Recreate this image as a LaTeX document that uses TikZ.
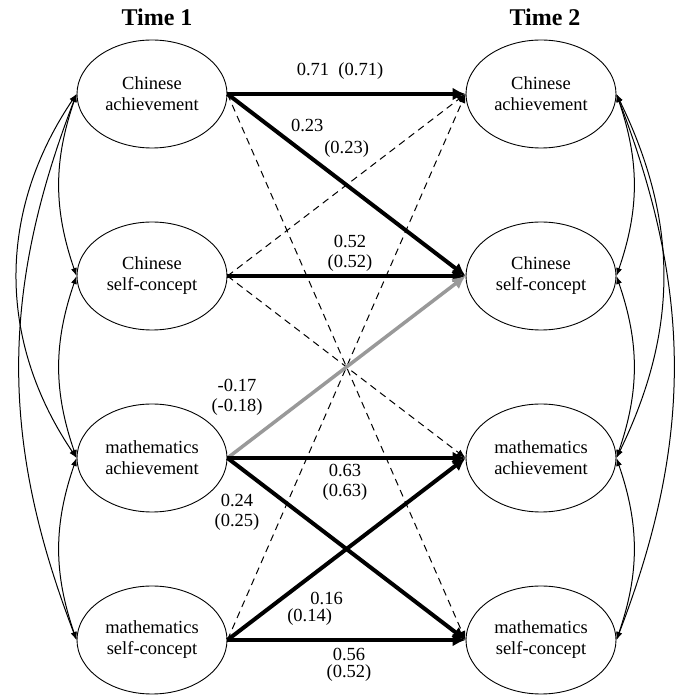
\documentclass[tikz,border=0pt]{standalone}
\usepackage{fontspec}
\setmainfont{Liberation Serif}
\usepackage{tikz}
\usetikzlibrary{shapes.geometric}
\usetikzlibrary{arrows.meta}

\tikzset{
  var/.style={ellipse, draw, line width=0.9pt, minimum width=150pt, minimum height=108pt,
    inner sep=0pt, align=center, font=\fontsize{18.5}{21}\selectfont},
  timelabel/.style={font=\bfseries\fontsize{24}{28}\selectfont},
  est/.style={inner sep=0pt, align=center, font=\fontsize{18.5}{20}\selectfont},
  bigpath/.style={line width=4pt, -{Latex[length=13pt,width=13pt]}},
  greypath/.style={bigpath, line width=3.5pt, draw=black!40},
  nspath/.style={line width=1pt, dash pattern=on 7pt off 5pt, -{Latex[length=9pt,width=7pt]}},
  cov/.style={line width=1pt, {Latex[length=8pt,width=6pt]}-{Latex[length=8pt,width=6pt]}}
}

\begin{document}
\begin{tikzpicture}[x=1pt,y=1pt]
\useasboundingbox (0,0) rectangle (682,697);

\node[timelabel] (t1) at (157,680) {Time 1};
\node[timelabel] (t2) at (545,680) {Time 2};

\node[var] (LCA) at (152,603) {Chinese\\achievement};
\node[var] (LCS) at (152,421) {Chinese\\self-concept};
\node[var] (LMA) at (152,239) {mathematics\\achievement};
\node[var] (LMS) at (152,57) {mathematics\\self-concept};
\node[var] (RCA) at (541,603) {Chinese\\achievement};
\node[var] (RCS) at (541,421) {Chinese\\self-concept};
\node[var] (RMA) at (541,239) {mathematics\\achievement};
\node[var] (RMS) at (541,57) {mathematics\\self-concept};

\draw[nspath] (LCA.east) -- (RMS.west);
\draw[nspath] (LCS.east) -- (RCA.west);
\draw[nspath] (LCS.east) -- (RMA.west);
\draw[nspath] (LMS.east) -- (RCA.west);

\draw[bigpath] (LCA.east) -- (RCA.west);
\draw[bigpath] (LCA.east) -- (RCS.west);
\draw[bigpath] (LCS.east) -- (RCS.west);
\draw[greypath] (LMA.east) -- (RCS.west);
\draw[bigpath] (LMA.east) -- (RMA.west);
\draw[bigpath] (LMA.east) -- (RMS.west);
\draw[bigpath] (LMS.east) -- (RMA.west);
\draw[bigpath] (LMS.east) -- (RMS.west);

\foreach \a/\b/\t in {LCA/LCS/19, LCS/LMA/19, LMA/LMS/19, LCA/LMA/34, LCA/LMS/21}
  \draw[cov] (\a.west) to[bend right=\t] (\b.west);
\foreach \a/\b/\t in {RCA/RCS/19, RCS/RMA/19, RMA/RMS/19, RCA/RMA/26, RCA/RMS/21}
  \draw[cov] (\a.east) to[bend left=\t] (\b.east);

\node[est] (e071) at (340,626) {0.71~~(0.71)};
\node[est, align=left] (e023) at (330,559) {0.23\\[2pt]\hspace*{1.8em}(0.23)};
\node[est] (e052) at (350,444) {0.52\\(0.52)};
\node[est] (e017) at (237,300) {-0.17\\(-0.18)};
\node[est] (e063) at (345,215) {0.63\\(0.63)};
\node[est] (e024) at (237,185) {0.24\\(0.25)};
\node[est, align=left] (e016) at (315,88) {\hspace*{1.25em}0.16\\[-3pt](0.14)};
\node[est] (e056) at (349,32) {0.56\\[-3pt](0.52)};
\end{tikzpicture}
\end{document}
